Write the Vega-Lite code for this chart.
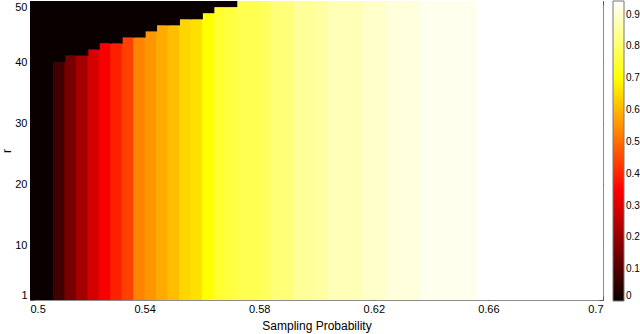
{
  "$schema": "https://vega.github.io/schema/vega-lite/v6.json",
  "autosize": {"type": "none"},
  "width": 573,
  "height": 299,
  "padding": {"left": 30, "top": 1, "right": 37, "bottom": 34},
  "background": "white",
  "config": {
    "view": {"stroke": "#8c8c8c", "strokeWidth": 1},
    "font": "Liberation Sans",
    "axis": {
      "labelFont": "Liberation Sans",
      "labelFontSize": 11,
      "labelColor": "#000000",
      "titleFont": "Liberation Sans",
      "titleFontSize": 12,
      "titleFontWeight": "normal",
      "titleColor": "#000000",
      "grid": false,
      "domain": false,
      "tickColor": "#555555",
      "tickSize": -4,
      "labelFlush": true
    },
    "legend": {
      "labelFont": "Liberation Sans",
      "labelFontSize": 10,
      "labelColor": "#000000"
    }
  },
  "data": {
    "values": [
      {"p": 0.500, "p2": 0.504, "top": 50, "v": 0},
      {"p": 0.504, "p2": 0.508, "top": 50, "v": 0},
      {"p": 0.508, "p2": 0.512, "top": 40, "v": 0.08},
      {"p": 0.512, "p2": 0.516, "top": 41, "v": 0.154},
      {"p": 0.516, "p2": 0.520, "top": 41, "v": 0.22},
      {"p": 0.520, "p2": 0.524, "top": 42, "v": 0.29},
      {"p": 0.524, "p2": 0.528, "top": 43, "v": 0.34},
      {"p": 0.528, "p2": 0.532, "top": 43, "v": 0.394},
      {"p": 0.532, "p2": 0.536, "top": 44, "v": 0.4375},
      {"p": 0.536, "p2": 0.540, "top": 44, "v": 0.532},
      {"p": 0.540, "p2": 0.544, "top": 45, "v": 0.554},
      {"p": 0.544, "p2": 0.548, "top": 46, "v": 0.583},
      {"p": 0.548, "p2": 0.552, "top": 46, "v": 0.6125},
      {"p": 0.552, "p2": 0.556, "top": 47, "v": 0.642},
      {"p": 0.556, "p2": 0.560, "top": 47, "v": 0.658},
      {"p": 0.560, "p2": 0.564, "top": 48, "v": 0.70},
      {"p": 0.564, "p2": 0.568, "top": 49, "v": 0.746},
      {"p": 0.568, "p2": 0.572, "top": 49, "v": 0.761},
      {"p": 0.572, "p2": 0.576, "top": 50, "v": 0.775},
      {"p": 0.576, "p2": 0.580, "top": 50, "v": 0.775},
      {"p": 0.580, "p2": 0.584, "top": 50, "v": 0.79},
      {"p": 0.584, "p2": 0.588, "top": 50, "v": 0.814},
      {"p": 0.588, "p2": 0.592, "top": 50, "v": 0.814},
      {"p": 0.592, "p2": 0.596, "top": 50, "v": 0.846},
      {"p": 0.596, "p2": 0.600, "top": 50, "v": 0.846},
      {"p": 0.600, "p2": 0.604, "top": 50, "v": 0.853},
      {"p": 0.604, "p2": 0.608, "top": 50, "v": 0.875},
      {"p": 0.608, "p2": 0.612, "top": 50, "v": 0.875},
      {"p": 0.612, "p2": 0.616, "top": 50, "v": 0.875},
      {"p": 0.616, "p2": 0.620, "top": 50, "v": 0.892},
      {"p": 0.620, "p2": 0.624, "top": 50, "v": 0.892},
      {"p": 0.624, "p2": 0.628, "top": 50, "v": 0.909},
      {"p": 0.628, "p2": 0.632, "top": 50, "v": 0.909},
      {"p": 0.632, "p2": 0.636, "top": 50, "v": 0.909},
      {"p": 0.636, "p2": 0.640, "top": 50, "v": 0.926},
      {"p": 0.640, "p2": 0.644, "top": 50, "v": 0.926},
      {"p": 0.644, "p2": 0.648, "top": 50, "v": 0.926},
      {"p": 0.648, "p2": 0.652, "top": 50, "v": 0.926},
      {"p": 0.652, "p2": 0.656, "top": 50, "v": 0.926},
      {"p": 0.656, "p2": 0.660, "top": 50, "v": 0.943},
      {"p": 0.660, "p2": 0.664, "top": 50, "v": 0.943},
      {"p": 0.664, "p2": 0.668, "top": 50, "v": 0.943},
      {"p": 0.668, "p2": 0.672, "top": 50, "v": 0.943},
      {"p": 0.672, "p2": 0.676, "top": 50, "v": 0.943},
      {"p": 0.676, "p2": 0.680, "top": 50, "v": 0.943},
      {"p": 0.680, "p2": 0.684, "top": 50, "v": 0.943},
      {"p": 0.684, "p2": 0.688, "top": 50, "v": 0.943},
      {"p": 0.688, "p2": 0.692, "top": 50, "v": 0.943},
      {"p": 0.692, "p2": 0.696, "top": 50, "v": 0.943},
      {"p": 0.696, "p2": 0.700, "top": 50, "v": 0.943}
    ]
  },
  "resolve": {"axis": {"x": "independent", "y": "independent"}},
  "layer": [
    {
      "mark": {"type": "rect", "x2Offset": 1, "clip": true},
      "encoding": {
        "x": {
          "field": "p", "type": "quantitative",
          "scale": {"domain": [0.5, 0.7], "nice": false, "zero": false},
          "axis": {
            "orient": "bottom",
            "values": [0.5, 0.54, 0.58, 0.62, 0.66, 0.7],
            "format": "~g",
            "labelPadding": 7,
            "title": "Sampling Probability",
            "titlePadding": 6
          }
        },
        "x2": {"field": "p2"},
        "y": {
          "field": "top", "type": "quantitative",
          "scale": {"domain": [1, 50], "nice": false, "zero": false},
          "axis": {
            "orient": "left",
            "values": [1, 10, 20, 30, 40, 50],
            "labelPadding": 7,
            "title": "r",
            "titlePadding": 1
          }
        },
        "y2": {"datum": 1},
        "color": {
          "field": "v", "type": "quantitative",
          "scale": {
            "domain": [0, 0.35, 0.7, 0.943],
            "range": ["#0b0000", "#ff0000", "#ffff00", "#ffffff"],
            "interpolate": "rgb"
          },
          "legend": {
            "orient": "right",
            "title": null,
            "offset": 9,
            "padding": 0,
            "direction": "vertical",
            "format": "~g",
            "gradientLength": 300,
            "gradientThickness": 11,
            "gradientStrokeColor": "#777777",
            "gradientStrokeWidth": 1,
            "values": [0, 0.1, 0.2, 0.3, 0.4, 0.5, 0.6, 0.7, 0.8, 0.9],
            "labelOffset": 2
          }
        }
      }
    },
    {
      "mark": {"type": "rect", "x2Offset": 1, "clip": true},
      "encoding": {
        "x": {
          "field": "p", "type": "quantitative",
          "axis": {
            "orient": "top",
            "values": [0.5, 0.54, 0.58, 0.62, 0.66, 0.7],
            "labels": false,
            "title": null
          }
        },
        "x2": {"field": "p2"},
        "y": {
          "field": "top", "type": "quantitative",
          "axis": {
            "orient": "right",
            "values": [1, 10, 20, 30, 40, 50],
            "labels": false,
            "title": null
          }
        },
        "y2": {"datum": 50},
        "color": {"value": "#0b0000"}
      }
    }
  ]
}
